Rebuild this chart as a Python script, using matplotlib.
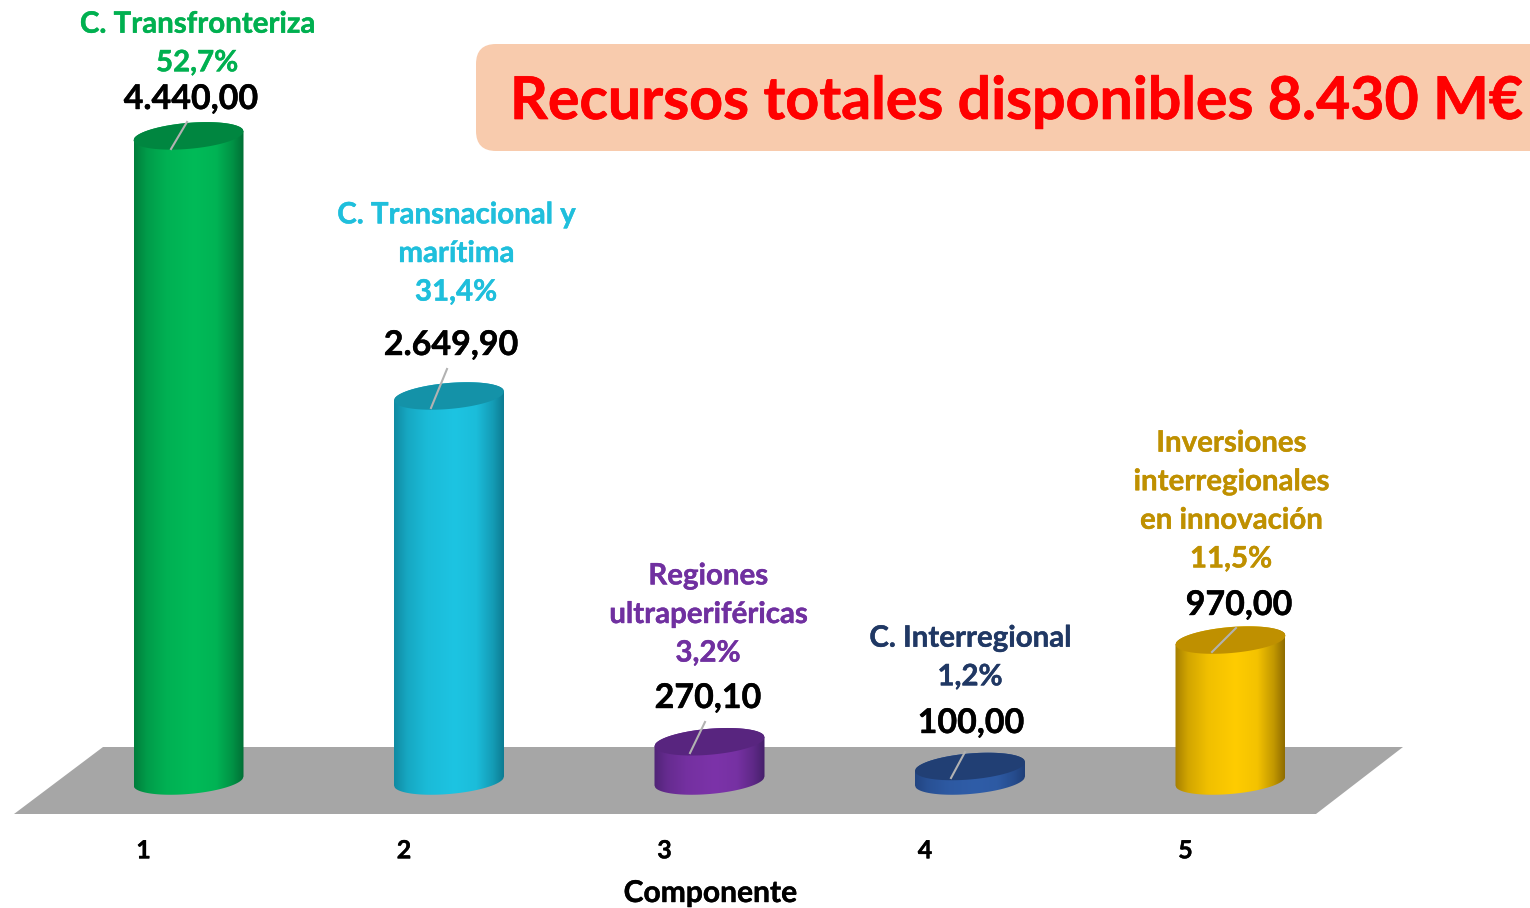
import numpy as np
import matplotlib
matplotlib.use("Agg")
import matplotlib.pyplot as plt
import matplotlib.patheffects as pe
from matplotlib.patches import Polygon, FancyBboxPatch
from matplotlib.colors import LinearSegmentedColormap, to_rgb
from matplotlib.transforms import Affine2D, ScaledTranslation

plt.rcParams['font.family'] = ['Lato', 'DejaVu Sans']

# ---- data ----
componentes = [1, 2, 3, 4, 5]
valores = [4440.00, 2649.90, 270.10, 100.00, 970.00]
valor_textos = ["4.440,00", "2.649,90", "270,10", "100,00", "970,00"]
nombres = ["C. Transfronteriza\n52,7%", "C. Transnacional y\nmarítima\n31,4%",
           "Regiones\nultraperiféricas\n3,2%", "C. Interregional\n1,2%",
           "Inversiones\ninterregionales\nen innovación\n11,5%"]
titulo = "Recursos totales disponibles 8.430 M€"
eje_x = "Componente"

# ---- styles ----
edge_cols = ["#006f35", "#0d7c92", "#45206a", "#1f3f78", "#8f6c00"]
mid_cols = ["#00bb58", "#1dc4e2", "#7c33a9", "#2f5da8", "#ffcc00"]
top_cols = ["#008640", "#1492a8", "#58257f", "#213f74", "#bf9000"]
text_cols = ["#00b050", "#1fbfdc", "#7030a0", "#203864", "#bf9000"]
name_xy = [(197, 44), (456, 254), (708, 615), (970, 658), (1231, 501.5)]
val_xy = [(191, 99), (451, 345), (708, 698), (971, 723), (1239, 605)]
leaders = [(171, 149, 187, 122), (431, 408, 447, 369), (690, 753, 705, 722),
           (951, 778, 965, 752), (1212, 652, 1236, 628)]

W, H = 1530, 908
PX_CAT = 260.5     # pixels per category
PX_VAL = 0.1453    # pixels per value unit
X1, Y0 = 188.5, 781  # pixel of category 1, pixel of value 0
AX_BOTTOM = 815

fig = plt.figure(figsize=(W / 100, H / 100), dpi=100, facecolor="white")
ax = fig.add_axes([0, (H - AX_BOTTOM) / H, 1, AX_BOTTOM / H])
for s in ax.spines.values():
    s.set_visible(False)
ax.set_yticks([])

px = Affine2D().scale(1, -1).translate(0, H)  # reference pixel coordinates


def heavy(col, w=0.3):
    return [pe.withStroke(linewidth=w, foreground=col)]


def mix(c1, c2, f):
    return tuple((1 - f) * np.array(to_rgb(c1)) + f * np.array(to_rgb(c2)))


# floor
ax.add_patch(Polygon([(14, 814), (1316, 814), (1403, 747), (103, 747)], closed=True,
                     transform=px, fc="#a6a6a6", ec="none", zorder=1, clip_on=False))

# cylinders
a = 55 / PX_CAT
b = 13 / PX_VAL
shear = 4.5 / PX_VAL
t = np.linspace(-1, 1, 121)
for i, (c, v) in enumerate(zip(componentes, valores)):
    xs = c + a * t
    round_part = b * np.sqrt(1 - t ** 2)
    tilt = shear * t  # right end sits higher
    side_x = np.r_[xs, xs[::-1]]
    side_y = np.r_[tilt - round_part, (v + tilt + round_part)[::-1]]
    e, m = edge_cols[i], mid_cols[i]
    cmap = LinearSegmentedColormap.from_list(f"c{i}", [
        (0, mix(e, m, 0.2)), (0.12, mix(e, m, 0.6)), (0.3, mix(e, m, 0.87)),
        (0.55, m), (0.75, mix(e, m, 0.9)), (0.9, mix(e, m, 0.45)), (1, e)])
    im = ax.imshow(np.linspace(0, 1, 256)[None, :], cmap=cmap, aspect="auto", zorder=2,
                   extent=(c - a, c + a, -2 * b, v + 2 * b), interpolation="bilinear")
    poly = Polygon(np.c_[side_x, side_y], closed=True, fc="none", ec="none",
                   transform=ax.transData)
    ax.add_patch(poly)
    im.set_clip_path(poly)
    ax.fill(np.r_[xs, xs[::-1]], np.r_[v + tilt + round_part, (v + tilt - round_part)[::-1]],
            color=top_cols[i], lw=0, zorder=3)
    x0, y0, x1, y1 = leaders[i]
    ax.plot([x0, x1], [y0, y1], color="#b2b2b2", lw=1.5, transform=px, zorder=4, clip_on=False)
    ax.text(*val_xy[i], valor_textos[i], transform=px, ha="center", va="center",
            fontsize=24.5, fontweight="bold", color="black", zorder=6,
            path_effects=heavy("black"))
    ax.text(*name_xy[i], nombres[i], transform=px, ha="center", va="center",
            fontsize=21.2, fontweight="bold", color=text_cols[i], linespacing=1.6, zorder=6,
            path_effects=heavy(text_cols[i]))

ax.set_xlim(1 - X1 / PX_CAT, 1 + (W - X1) / PX_CAT)
ax.set_ylim((Y0 - AX_BOTTOM) / PX_VAL, Y0 / PX_VAL)

# x axis
ax.set_xticks(componentes)
ax.set_xticklabels([str(c) for c in componentes], fontsize=18, fontweight="bold")
ax.tick_params(axis="x", length=0, pad=17.5)
shift = ScaledTranslation(-45 / 100, 0, fig.dpi_scale_trans)
for lab in ax.get_xticklabels():
    lab.set_transform(lab.get_transform() + shift)
    lab.set_path_effects(heavy("black"))
fig.text(710.5 / W, 1 - 893 / H, eje_x, ha="center", va="center", fontsize=21.6, fontweight="bold",
         color="black", path_effects=heavy("black"))

# title box
box = FancyBboxPatch((476, 44), 1120, 107, boxstyle="round,pad=0,rounding_size=20",
                     mutation_aspect=1, transform=px, fc="#f8cbad", ec="none",
                     zorder=1, clip_on=True)
ax.add_patch(box)
ax.text(510, 102, titulo, transform=px, ha="left", va="center", fontsize=42.5,
        fontweight="bold", color="#ff0000", zorder=6, path_effects=heavy("#ff0000", 0.5))

fig.savefig("out.png", dpi=100)
